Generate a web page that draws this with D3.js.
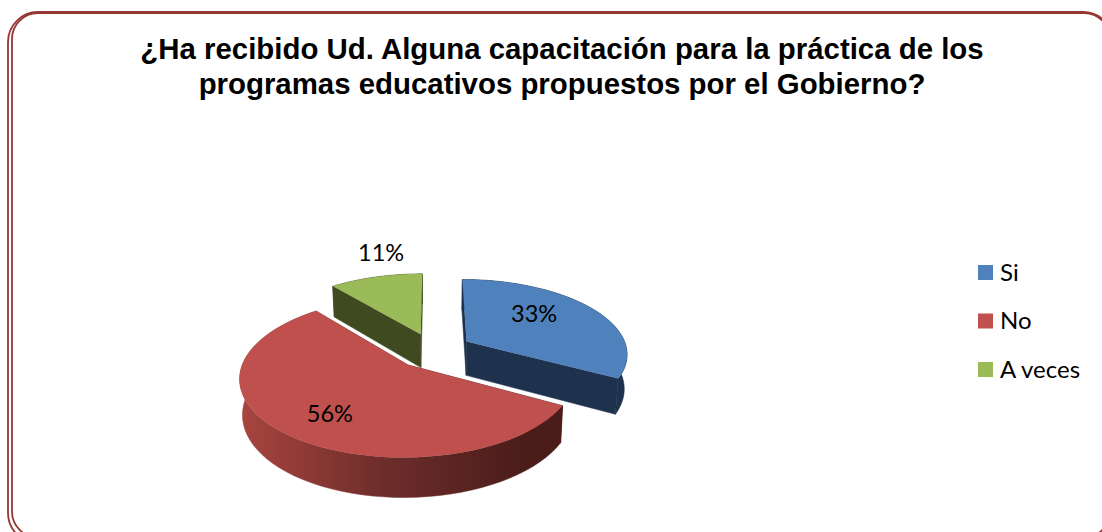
<!DOCTYPE html>
<html><head><meta charset="utf-8">
<script src="https://cdn.jsdelivr.net/npm/d3@7/dist/d3.min.js"></script>
<style>html,body{margin:0;padding:0;background:#fff;overflow:hidden}svg{display:block}</style>
</head><body><svg id="c" width="1102" height="532"></svg>
<script>
const titleLines=["¿Ha recibido Ud. Alguna capacitación para la práctica de los","programas educativos propuestos por el Gobierno?"];
const categories=["Si","No","A veces"];
const values=[33,56,11];
const labels=["33%","56%","11%"];
const topColors=["#4F81BD","#C0504D","#9BBB59"];
const sideColors=["#1E324D","url(#redSide)","#3F4A20"];
const labelRadius=[0.623,0.705,1.46];
const labelTurn=[-11,-3.5,7];
const drawOrder=[2,0,1];

const svg=d3.select("#c");
const frame="#953735";
[[8,12,1105,531,30],[12,13,1098,524.5,26]].forEach(([x,y,w,h,r])=>{
  svg.append("rect").attr("x",x).attr("y",y).attr("width",w).attr("height",h).attr("rx",r).attr("ry",r)
   .attr("fill","none").attr("stroke",frame).attr("stroke-width",1.8);
});
svg.append("g").selectAll("text").data(titleLines).join("text")
  .attr("x",562).attr("y",(d,i)=>59+i*35).attr("text-anchor","middle")
  .attr("font-family","'Liberation Sans',Arial,sans-serif").attr("font-weight","bold")
  .attr("font-size",29.4).attr("fill","#000").text(d=>d);

// projection of the tilted pie plane
const ax=433.5, ay=350.6, A=161, B=74, p=0.15, explode=0.243, depth=38, shrink=0.985;
const project=(X,Z,down)=>{
  const w=1+p*Z, u=X/w, v=Z/w;
  return down? [ax+A*u*shrink, ay-B*v*shrink+depth/w*0.9] : [ax+A*u, ay-B*v];
};
const pie=d3.pie().sort(null).value(d=>d);
const arcs=pie(values);
const line=d3.line();
const defs=svg.append("defs");
const gx=d3.scaleLinear().domain([0,0.5,1]).range(["#A8453F","#6E2D2B","#4A1C1A"]);
const grad=defs.append("linearGradient").attr("id","redSide").attr("gradientUnits","userSpaceOnUse")
  .attr("x1",240).attr("x2",525).attr("y1",0).attr("y2",0);
d3.range(0,1.01,0.25).forEach(t=>grad.append("stop").attr("offset",t).attr("stop-color",gx(t)));

const gp=svg.append("g");
drawOrder.forEach(i=>{
  const a=arcs[i], mid=(a.startAngle+a.endAngle)/2;
  const ox=explode*Math.sin(mid), oz=explode*Math.cos(mid);
  const ang=d3.range(0,61).map(k=>a.startAngle+(a.endAngle-a.startAngle)*k/60);
  const rim=down=>ang.map(t=>project(ox+Math.sin(t),oz+Math.cos(t),down));
  const c0=project(ox,oz,false), c1=project(ox,oz,true);
  const top=rim(false), bot=rim(true);
  const g=gp.append("g");
  const wall=pts=>g.append("path").attr("d",line(pts)+"Z").attr("fill",sideColors[i]).attr("stroke",sideColors[i]).attr("stroke-width",0.5);
  wall([c0,top[0],bot[0],c1]);
  wall([c0,top[60],bot[60],c1]);
  wall(top.concat(bot.slice().reverse()));
  g.append("path").attr("d",line([c0,...top])+"Z").attr("fill",topColors[i]);
  const r=labelRadius[i], la=mid+labelTurn[i]*Math.PI/180;
  const lp=project(ox+r*Math.sin(la),oz+r*Math.cos(la),false);
  svg.append("text").attr("class","lab").attr("x",lp[0]).attr("y",lp[1]).attr("dy","0.35em").attr("text-anchor","middle")
    .attr("font-family","Lato,Carlito,Calibri,sans-serif").attr("font-size",23.5).attr("fill","#000").text(labels[i]);
});
svg.selectAll("text.lab").raise();

const ly=d3.scalePoint().domain(categories).range([272.5,369.5]);
const lg=svg.append("g").selectAll("g").data(categories).join("g").attr("transform",d=>`translate(978,${ly(d)})`);
lg.append("rect").attr("y",-7.5).attr("width",15).attr("height",15).attr("fill",(d,i)=>topColors[i]);
lg.append("text").attr("x",22).attr("y",8).attr("font-family","Lato,Carlito,Calibri,sans-serif").attr("font-size",24).attr("fill","#000").text(d=>d);
</script></body></html>
